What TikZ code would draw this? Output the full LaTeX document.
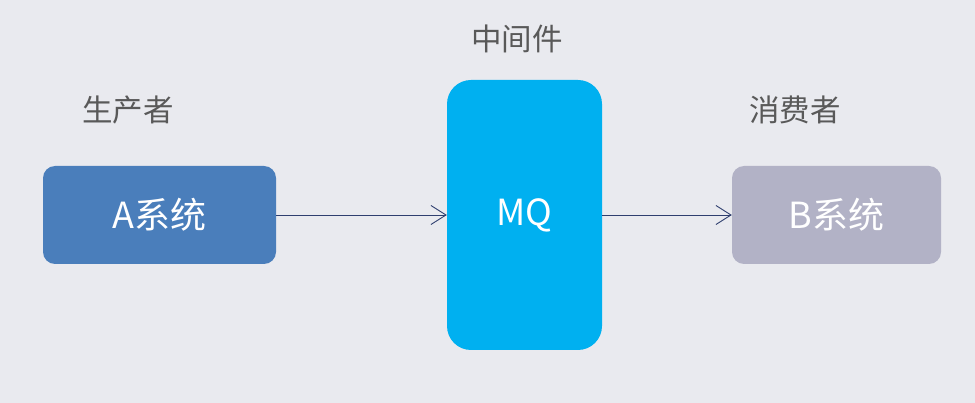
\documentclass[tikz,border=0pt]{standalone}
\usepackage{fontspec}
\setmainfont{Noto Sans CJK SC}
\usetikzlibrary{arrows.meta}
\definecolor{bg}{HTML}{E9EAEF}
\definecolor{aBlue}{HTML}{4A7EBB}
\definecolor{mqBlue}{HTML}{00B0F0}
\definecolor{bGray}{HTML}{B2B2C6}
\definecolor{lblGray}{HTML}{595959}
\definecolor{arrowNavy}{HTML}{2F3F6F}
\begin{document}
\begin{tikzpicture}[x=1pt,y=-1pt,
  sysbox/.style={rounded corners=12pt, text=white, font=\fontsize{36}{36}\selectfont, anchor=center, inner sep=0pt},
  lbl/.style={text=lblGray, font=\fontsize{30.5}{30.5}\selectfont, inner sep=0pt, anchor=center},
  conn/.style={draw=arrowNavy, line width=0.9pt, -{Straight Barb[length=15pt,width=19pt,line width=0.9pt]}}]
\fill[bg] (0,0) rectangle (975,403);
\useasboundingbox (0,0) rectangle (975,403);
\node[sysbox, fill=aBlue, minimum width=233pt, minimum height=98pt] (A) at (159.5,215) {A系统};
\node[sysbox, fill=mqBlue, rounded corners=24pt, minimum width=155pt, minimum height=270pt] (MQ) at (524.5,215) {MQ};
\node[sysbox, fill=bGray, minimum width=209pt, minimum height=98pt] (B) at (836.5,215) {B系统};
\node[lbl] (lp) at (128,110) {生产者};
\node[lbl] (lm) at (517,39) {中间件};
\node[lbl] (lc) at (795,110) {消费者};
\draw[conn] (A.east) -- (MQ.west);
\draw[conn] (MQ.east) -- (B.west);
\end{tikzpicture}
\end{document}
